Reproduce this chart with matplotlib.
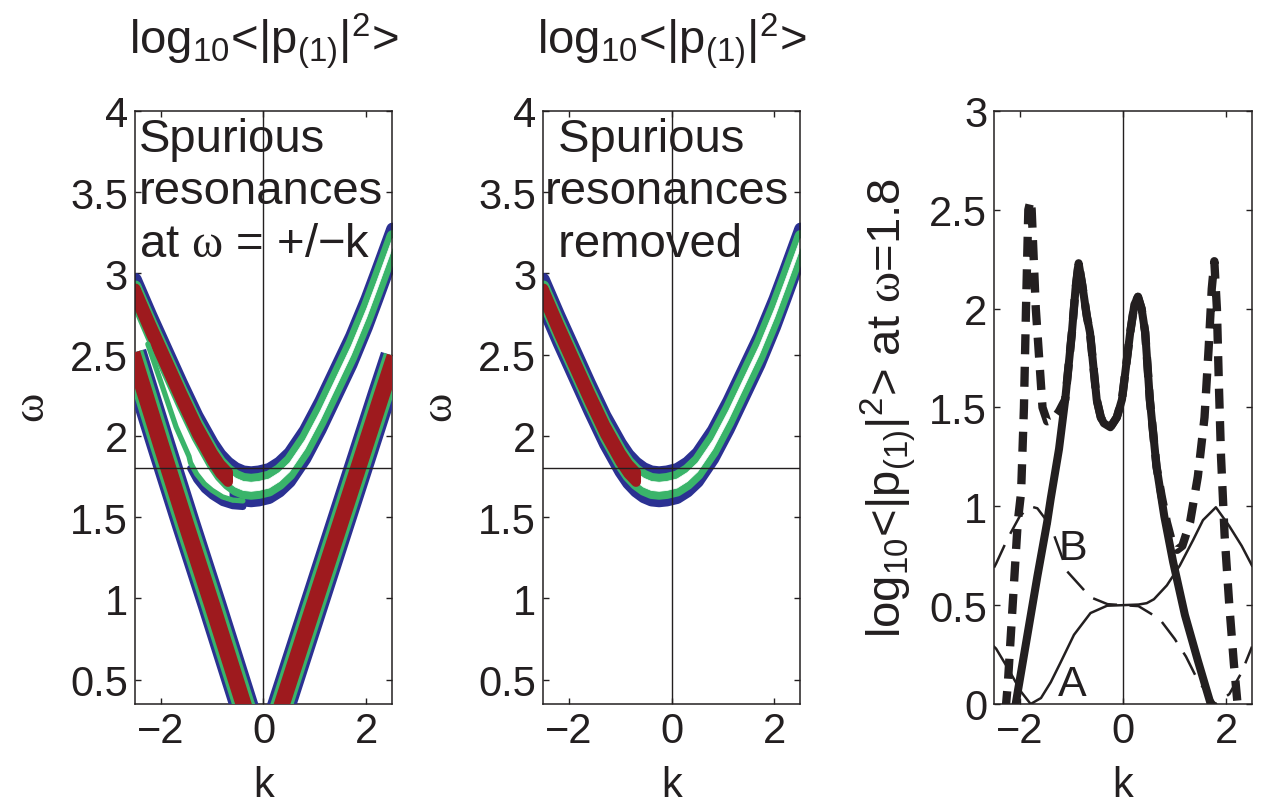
import numpy as np
import matplotlib.pyplot as plt
from matplotlib.ticker import FuncFormatter, MultipleLocator

plt.rcParams['font.family'] = ['Liberation Sans', 'DejaVu Sans']
plt.rcParams['mathtext.fontset'] = 'custom'
plt.rcParams['mathtext.rm'] = 'Liberation Sans'
plt.rcParams['mathtext.it'] = 'Liberation Sans:italic'
plt.rcParams['mathtext.bf'] = 'Liberation Serif'   # used for the upright serif omega

INK = '#231f20'
BLUE = '#2b3192'
GREEN = '#3ab46a'
RED = '#9e1a1e'

# ---- ridge of log10<|p(1)|^2> in the (k, omega) plane ----
k_disp = np.array([-2.5, -2.2, -1.9, -1.6, -1.3, -1.0, -0.85, -0.7, -0.55, -0.4, -0.25,
                   -0.1, 0.1, 0.3, 0.5, 0.8, 1.1, 1.4, 1.7, 2.0, 2.2, 2.5])
w_disp = np.array([2.88, 2.66, 2.45, 2.24, 2.04, 1.87, 1.80, 1.75, 1.715, 1.695, 1.69,
                   1.695, 1.71, 1.75, 1.81, 1.95, 2.13, 2.33, 2.53, 2.76, 2.93, 3.19])
k_red_end = -0.7

# spurious resonances at omega = +/- k
k_spur_left = np.array([-2.55, -2.0, -1.5, -1.0, -0.5, -0.3])
w_spur_left = np.array([2.51, 1.95, 1.45, 0.96, 0.46, 0.26])
k_spur_right = np.array([0.3, 0.8, 1.3, 1.8, 2.3, 2.55])
w_spur_right = np.array([0.29, 0.78, 1.27, 1.76, 2.25, 2.49])

# branch splitting off the spurious line
k_hook = np.array([-2.25, -2.0, -1.7, -1.45, -1.42, -1.3, -1.15, -1.0, -0.8, -0.6, -0.4])
w_hook = np.array([2.53, 2.30, 2.02, 1.84, 1.80, 1.73, 1.67, 1.63, 1.59, 1.57, 1.565])
k_hook_tip = -1.42

# ---- cut at omega = 1.8 ----
k_full = np.array([-2.15, -2.08, -1.66, -1.47, -1.40, -1.24, -1.12, -0.99, -0.92, -0.86,
                   -0.79, -0.70, -0.64, -0.51, -0.43, -0.37, -0.245, -0.12, -0.02, 0.14,
                   0.22, 0.29, 0.36, 0.43, 0.52, 0.65, 0.80, 0.97, 1.2, 1.45, 1.70, 1.78])
p_full = np.array([-0.1, 0.0, 0.645, 0.92, 1.04, 1.29, 1.54, 1.88, 2.1, 2.23,
                   2.12, 1.96, 1.88, 1.54, 1.45, 1.42, 1.40, 1.45, 1.54, 1.88,
                   2.02, 2.06, 2.0, 1.88, 1.54, 1.2, 0.95, 0.72, 0.45, 0.22, 0.0, -0.07])

k_spur = np.array([-2.33, -2.23, -2.04, -1.975, -1.92, -1.88, -1.835, -1.79, -1.77, -1.69,
                   -1.56, -1.47, -1.35, -1.24, -1.12, -0.99, -0.92, -0.86, -0.79, -0.70,
                   -0.64, -0.51, -0.43, -0.37, -0.245, -0.12, -0.02, 0.14, 0.22, 0.29,
                   0.36, 0.43, 0.52, 0.65, 0.75, 0.85, 0.95, 1.05, 1.15, 1.3, 1.45,
                   1.58, 1.66, 1.72, 1.77, 1.82, 1.86, 1.90, 1.97, 2.06, 2.15, 2.22, 2.27])
p_spur = np.array([-0.2, 0.11, 0.92, 1.07, 1.5, 2.0, 2.5, 2.55, 2.5, 2.0,
                   1.5, 1.43, 1.44, 1.48, 1.54, 1.88, 2.1, 2.23, 2.12, 1.96,
                   1.88, 1.54, 1.45, 1.42, 1.40, 1.45, 1.54, 1.88, 2.02, 2.06,
                   2.0, 1.88, 1.54, 1.2, 1.05, 0.92, 0.82, 0.78, 0.80, 0.92, 1.15,
                   1.45, 1.8, 2.1, 2.24, 2.0, 1.6, 1.25, 0.85, 0.5, 0.2, 0.0, -0.1])

k_A = np.array([-2.5, -2.46, -2.23, -1.97, -1.79, -1.59, -1.40, -1.21, -0.95, -0.63, -0.31,
                0.0, 0.3, 0.46, 0.6, 0.85, 1.10, 1.36, 1.55, 1.80, 2.06, 2.3, 2.5])
p_A = np.array([0.29, 0.28, 0.18, 0.06, 0.0, 0.03, 0.11, 0.21, 0.35, 0.46, 0.497,
                0.5, 0.503, 0.51, 0.53, 0.60, 0.70, 0.83, 0.93, 0.995, 0.90, 0.80, 0.70])
k_B = np.array([-2.5, -2.46, -2.23, -2.0, -1.8, -1.66, -1.40, -1.08, -0.63, -0.3, 0.0,
                0.3, 0.71, 1.0, 1.22, 1.45, 1.67, 1.79, 2.06, 2.3, 2.5])
p_B = np.array([0.69, 0.71, 0.84, 0.95, 1.0, 0.99, 0.90, 0.67, 0.54, 0.505, 0.5,
                0.495, 0.43, 0.33, 0.24, 0.12, 0.04, 0.0, 0.05, 0.16, 0.29])

title = r'log$_{10}$<|p$_{(1)}$|$^2$>'
fs_tick = 30
fs_text = 34


def band(ax, k, lo, hi, color, lw):
    ax.fill_between(k, lo, hi, facecolor=color, edgecolor=color, linewidth=lw,
                    joinstyle='round', zorder=2)


def dispersion(ax, lower_from=None):
    h = 0.088
    if lower_from is None:
        band(ax, k_disp, w_disp - h, w_disp + h, BLUE, 8.9)
    else:
        band(ax, k_disp, w_disp, w_disp + h, BLUE, 8.9)
        m = k_disp >= lower_from
        band(ax, k_disp[m], w_disp[m] - h, w_disp[m], BLUE, 8.9)
    band(ax, k_disp, w_disp - 0.044, w_disp + 0.044, GREEN, 8.4)
    band(ax, k_disp, w_disp - 0.028, w_disp + 0.028, 'white', 0.5)
    m = k_disp <= k_red_end
    band(ax, k_disp[m], w_disp[m] - 0.03, w_disp[m] + 0.03, RED, 7.2)


def spurious(ax, k, w):
    for c, lw in [(BLUE, 20.5), (GREEN, 16), (RED, 11.5)]:
        ax.plot(k, w, color=c, lw=lw, solid_capstyle='butt', zorder=3)


def style(ax, ylo, yhi, ystep):
    ax.set_xlim(-2.5, 2.5)
    ax.set_ylim(ylo, yhi)
    ax.xaxis.set_major_locator(MultipleLocator(2))
    ax.yaxis.set_major_locator(MultipleLocator(ystep))
    fmt = FuncFormatter(lambda v, pos: ('%g' % v).replace('-', '\u2212'))
    ax.xaxis.set_major_formatter(fmt)
    ax.yaxis.set_major_formatter(fmt)
    ax.tick_params(direction='in', length=4.5, width=1, top=True, right=True,
                   labelsize=fs_tick, pad=5, colors=INK)
    for s in ax.spines.values():
        s.set_linewidth(1.1)
        s.set_color(INK)
    ax.axvline(0, color=INK, lw=1, zorder=5)
    ax.set_xlabel('k', fontsize=fs_tick, color=INK, labelpad=10)


fig = plt.figure(figsize=(12.64, 8.12), dpi=100)
ax1 = fig.add_axes([0.1068, 0.1318, 0.2033, 0.7303])
ax2 = fig.add_axes([0.4296, 0.1318, 0.2033, 0.7303])
ax3 = fig.add_axes([0.7864, 0.1318, 0.2041, 0.7303])

# left: with the spurious resonances
dispersion(ax1, lower_from=-0.6)
m = k_hook >= k_hook_tip
ax1.plot(k_hook[m], w_hook[m], color=BLUE, lw=5, solid_capstyle='round', zorder=2.5)
ax1.plot(k_hook, w_hook + 0.035, color=GREEN, lw=3.8, solid_capstyle='round', zorder=2.6)
spurious(ax1, k_spur_left, w_spur_left)
spurious(ax1, k_spur_right, w_spur_right)
style(ax1, 0.35, 4, 0.5)
ax1.axhline(1.8, color=INK, lw=1, zorder=5)
ax1.set_ylabel(r'$\mathbf{\omega}$', fontsize=fs_tick + 2, color=INK, labelpad=12)
ax1.set_title(title, fontsize=fs_text, color=INK, pad=42)
ax1.text(0.015, 0.99, 'Spurious\nresonances\nat $\\mathbf{\\omega}$ = +/\u2212k',
         transform=ax1.transAxes, ha='left', va='top', fontsize=fs_text,
         linespacing=1.25, color=INK, zorder=6)

# middle: spurious resonances removed
dispersion(ax2)
style(ax2, 0.35, 4, 0.5)
ax2.axhline(1.8, color=INK, lw=1, zorder=5)
ax2.set_ylabel(r'$\mathbf{\omega}$', fontsize=fs_tick + 2, color=INK, labelpad=12)
ax2.set_title(title, fontsize=fs_text, color=INK, pad=42)
ax2.text(0.008, 0.99, ' Spurious\nresonances\n removed', transform=ax2.transAxes,
         ha='left', va='top', fontsize=fs_text, linespacing=1.25, color=INK, zorder=6)

# right: cut at omega = 1.8
ax3.plot(k_A, p_A, color=INK, lw=1.8, zorder=3)
ax3.plot(k_B, p_B, color=INK, lw=1.8, dashes=(10, 5), zorder=3)
ax3.plot(k_spur, p_spur, color=INK, lw=6, dashes=(2.4, 1.5), zorder=4)
ax3.plot(k_full, p_full, color=INK, lw=5.8, solid_capstyle='round', zorder=4)
style(ax3, 0, 3, 0.5)
ax3.set_ylabel(title + r' at $\mathbf{\omega}$=1.8', fontsize=fs_text, color=INK, labelpad=8)
ax3.text(-0.98, 0.1, 'A', fontsize=31, ha='center', va='center', color=INK, zorder=6)
ax3.text(-0.98, 0.79, 'B', fontsize=31, ha='center', va='center', color=INK, zorder=6)

fig.savefig('out.png', dpi=100)
